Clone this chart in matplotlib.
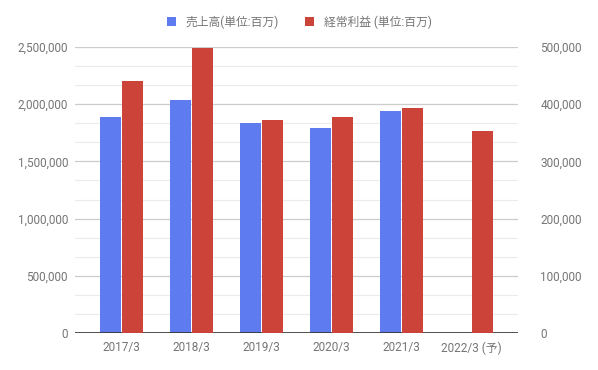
import matplotlib
matplotlib.use("Agg")
import matplotlib.pyplot as plt
from matplotlib.patches import Patch
from matplotlib.ticker import FuncFormatter
import numpy as np

plt.rcParams['font.family'] = ['Roboto', 'Noto Sans CJK JP', 'DejaVu Sans']

categories = ["2017/3", "2018/3", "2019/3", "2020/3", "2021/3", "2022/3 (予)"]
sales = [1885000, 2037000, 1836000, 1792000, 1941000, np.nan]
profit = [440500, 498000, 372400, 377100, 392800, 353100]
sales_label = "売上高(単位:百万)"
profit_label = "経常利益 (単位:百万)"

blue = "#5f7bf0"
red = "#cc4439"
gray = "#757575"

fig = plt.figure(figsize=(5.98, 3.70), dpi=100)
ax = fig.add_axes([75/598, 37/370, 443/598, 286/370])
ax2 = ax.twinx()

x = np.arange(len(categories))
w = 0.3
gap = 0.012
ax.bar(x - w/2 - gap, sales, width=w, color=blue, zorder=3)
ax2.bar(x + w/2 + gap, profit, width=w, color=red, zorder=3)

ax.set_xlim(-0.667, len(categories) - 1 + 0.667)
ax.set_ylim(0, 2500000)
ax2.set_ylim(0, 500000)

ax.set_yticks(np.arange(0, 2500001, 500000))
ax.set_yticks(np.arange(0, 2500001, 500000/3), minor=True)
ax2.set_yticks(np.arange(0, 500001, 100000))
fmt = FuncFormatter(lambda v, p: f"{int(round(v)):,}")
ax.yaxis.set_major_formatter(fmt)
ax2.yaxis.set_major_formatter(fmt)

ax.grid(axis='y', which='major', color='#cccccc', linewidth=0.9, zorder=0)
ax.grid(axis='y', which='minor', color='#ebebeb', linewidth=0.8, zorder=0)
ax.set_axisbelow(True)

for a in (ax, ax2):
    for s in a.spines.values():
        s.set_visible(False)
ax.axhline(0, color='#333333', linewidth=1.2, zorder=5)

ax.set_xticks(x)
ax.set_xticklabels(categories)
ax.tick_params(axis='x', length=0, pad=6, labelsize=8.5, labelcolor=gray)
ax.tick_params(axis='y', which='both', length=0, pad=5, labelsize=8.5, labelcolor=gray)
ax2.tick_params(axis='y', length=0, pad=16, labelsize=8.5, labelcolor=gray)

handles = [Patch(facecolor=blue, label=sales_label), Patch(facecolor=red, label=profit_label)]
leg = fig.legend(handles=handles, loc='center', bbox_to_anchor=(0.5, 1 - 22/370), ncol=2,
                 frameon=False, fontsize=8.5, handlelength=0.8, handleheight=0.8,
                 handletextpad=0.8, columnspacing=2.2)
for t in leg.get_texts():
    t.set_color(gray)

fig.savefig("out.png", dpi=100)
